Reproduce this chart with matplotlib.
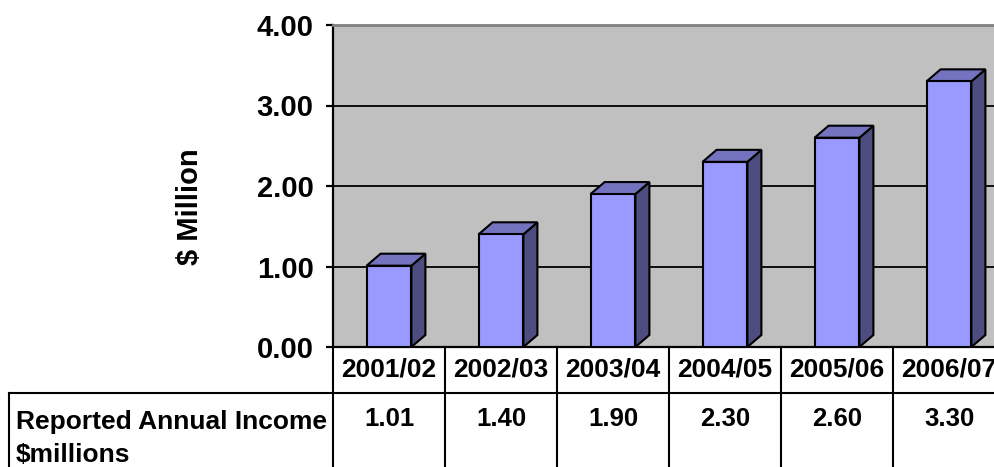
import matplotlib
matplotlib.use("Agg")
import matplotlib.pyplot as plt
from matplotlib.patches import Polygon, Rectangle

plt.rcParams['font.family'] = ['Liberation Sans', 'DejaVu Sans']
plt.rcParams['font.weight'] = 'bold'

categories = ["2001/02", "2002/03", "2003/04", "2004/05", "2005/06", "2006/07"]
values = [1.01, 1.40, 1.90, 2.30, 2.60, 3.30]
value_labels = ["1.01", "1.40", "1.90", "2.30", "2.60", "3.30"]
yticks = [0, 1, 2, 3, 4]
ytick_labels = ["0.00", "1.00", "2.00", "3.00", "4.00"]
row_label = "Reported Annual Income\n$millions"
y_label = "$ Million"

W, H = 994, 467
fig = plt.figure(figsize=(W / 100, H / 100), dpi=100)

# main chart axes (pixels: x 333..1005, y 25..347)
ax = fig.add_axes([333 / W, (H - 347) / H, 672 / W, 322 / H])
ax.set_facecolor("#C0C0C0")
ax.set_xlim(-0.5, len(categories) - 0.5)
ax.set_ylim(0, 4)

for g in [1, 2, 3]:
    ax.axhline(g, color="black", lw=1.3, zorder=1)

bw = 0.4
dx = 14 / 112
dy = 12 / 80.5
front_c, top_c, side_c = "#9999FF", "#7373BF", "#4D4D80"
elw = 1.5
for i, v in enumerate(values):
    x0, x1 = i - bw / 2, i + bw / 2
    side = Polygon([(x1, 0), (x1 + dx, dy), (x1 + dx, v + dy), (x1, v)],
                   closed=True, facecolor=side_c, edgecolor="black", lw=elw,
                   joinstyle="miter", zorder=3)
    top = Polygon([(x0, v), (x0 + dx, v + dy), (x1 + dx, v + dy), (x1, v)],
                  closed=True, facecolor=top_c, edgecolor="black", lw=elw,
                  joinstyle="miter", zorder=3)
    ax.add_patch(side)
    ax.add_patch(top)
    ax.add_patch(Rectangle((x0, 0), bw, v, facecolor=front_c, edgecolor="black",
                           lw=elw, joinstyle="miter", zorder=4))

ax.set_yticks(yticks)
ax.set_yticklabels(ytick_labels, fontsize=21, fontweight="bold")
ax.tick_params(axis="y", length=5, width=1.6, pad=9, color="black")
ax.set_xticks([])
ax.spines["right"].set_visible(False)
ax.spines["left"].set_color("black")
ax.spines["left"].set_linewidth(1.6)
ax.spines["bottom"].set_color("black")
ax.spines["bottom"].set_linewidth(1.6)
ax.spines["top"].set_color("#808080")
ax.spines["top"].set_linewidth(2.0)

fig.text(190 / W, 1 - 207 / H, y_label, rotation=90, ha="center", va="center",
         fontsize=21, fontweight="bold")

# data table axes (pixels y 347..467), table rows in pixel units
tb = fig.add_axes([333 / W, 0, 672 / W, 120 / H], sharex=ax)
tb.set_ylim(120, 0)
tb.axis("off")
tb.patch.set_visible(False)
n = len(categories)
tlw = 1.5
for k in range(n + 1):
    tb.plot([k - 0.5, k - 0.5], [0, 120], color="black", lw=tlw, clip_on=False)
left_x = -0.5 - (333 - 9) / 112
tb.plot([left_x, n - 0.5], [46, 46], color="black", lw=tlw, clip_on=False)
tb.plot([left_x, left_x], [46, 120], color="black", lw=tlw, clip_on=False)
for i, (c, vl) in enumerate(zip(categories, value_labels)):
    tb.text(i, 22.5, c, ha="center", va="center", fontsize=19, fontweight="bold")
    tb.text(i, 72, vl, ha="center", va="center", fontsize=18.5, fontweight="bold")
tb.text(-0.5 - (333 - 16) / 112, 63, row_label, ha="left", va="top",
        fontsize=19, fontweight="bold", linespacing=1.45, clip_on=False)

fig.savefig("out.png", dpi=100)
